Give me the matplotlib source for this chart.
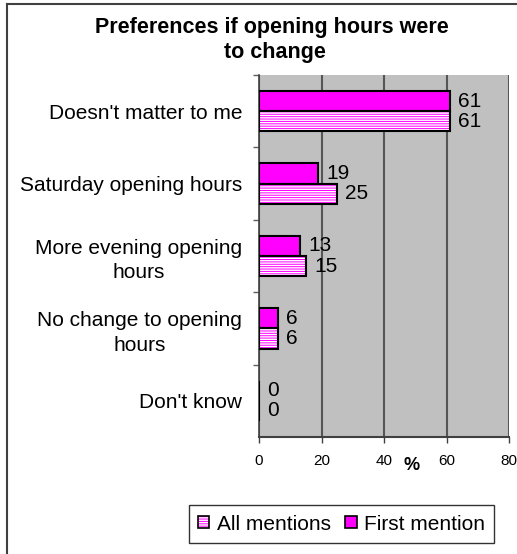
import matplotlib
matplotlib.use("Agg")
import matplotlib.pyplot as plt
from matplotlib.lines import Line2D
from matplotlib.patches import Patch
from matplotlib.legend_handler import HandlerTuple

plt.rcParams['font.family'] = ['Liberation Sans', 'DejaVu Sans']
plt.rcParams['hatch.linewidth'] = 1.0

categories = ["Doesn't matter to me", "Saturday opening hours",
              "More evening opening\nhours", "No change to opening\nhours",
              "Don't know"]
first_mention = [61, 19, 13, 6, 0]
all_mentions = [61, 25, 15, 6, 0]
xticks = [0, 20, 40, 60, 80]

W, H = 517, 554
fig = plt.figure(figsize=(W / 100, H / 100), dpi=100)
ax = fig.add_axes([259 / W, 1 - 437 / H, 250 / W, 362 / H])
ax.set_facecolor('#C0C0C0')

MAG = '#FF00FF'
h = 0.28
ypos = list(range(len(categories)))
y_first = [y - h / 2 for y in ypos]
y_all = [y + h / 2 for y in ypos]

ax.barh(y_first, first_mention, height=h, color=MAG, edgecolor='black',
        linewidth=1.5, zorder=3)
ax.barh(y_all, all_mentions, height=h, color=MAG, edgecolor='white',
        hatch='-------', linewidth=0, zorder=3)
ax.barh(y_all, all_mentions, height=h, fill=False, edgecolor='black',
        linewidth=1.5, zorder=4)

for y, v in zip(y_first, first_mention):
    ax.annotate(str(v), (v, y), xytext=(6, 0), textcoords='offset points',
                va='center', ha='left', fontsize=15)
for y, v in zip(y_all, all_mentions):
    ax.annotate(str(v), (v, y), xytext=(6, 0), textcoords='offset points',
                va='center', ha='left', fontsize=15)

ax.set_xlim(0, 80)
ax.set_ylim(4.5, -0.5)
ax.set_xticks(xticks)
ax.set_xticklabels([str(t) for t in xticks], fontsize=11)
ax.tick_params(axis='x', length=4, width=1, color='#404040', pad=8)
ax.set_yticks(ypos)
ax.set_yticklabels(categories, fontsize=15, multialignment='center',
                   linespacing=1.35)
ax.tick_params(axis='y', length=0, pad=12)
ax.set_yticks([y + 0.5 for y in ypos[:-1]] + [-0.5], minor=True)
ax.tick_params(axis='y', which='minor', length=4, width=1, color='#606060')

ax.xaxis.grid(True, color='#555555', linewidth=1.5, zorder=1)
ax.set_axisbelow(True)
for s in ['top', 'right']:
    ax.spines[s].set_visible(False)
ax.spines['left'].set_color('#404040')
ax.spines['bottom'].set_color('#404040')
ax.spines['left'].set_linewidth(1.2)
ax.spines['bottom'].set_linewidth(1.5)

fig.text(412 / W, 1 - 466 / H, '%', fontsize=13, fontweight='bold',
         ha='center', va='center')

fig.text(272 / W, 1 - 33 / H, 'Preferences if opening hours were',
         fontsize=15.5, fontweight='bold', ha='center', va='baseline')
fig.text(275 / W, 1 - 58 / H, 'to change',
         fontsize=15.5, fontweight='bold', ha='center', va='baseline')

# figure border (left & top)
fig.add_artist(Line2D([7 / W, 7 / W], [0, 1 - 4 / H], color='#404040',
                      linewidth=1.5, transform=fig.transFigure))
fig.add_artist(Line2D([7 / W, 1], [1 - 4 / H, 1 - 4 / H], color='#404040',
                      linewidth=1.5, transform=fig.transFigure))

h_all = (Patch(facecolor=MAG, edgecolor='white', hatch='-------', linewidth=0),
         Patch(fill=False, edgecolor='black', linewidth=1.2))
h_first = Patch(facecolor=MAG, edgecolor='black', linewidth=1.2)
leg = fig.legend([h_all, h_first], ['All mentions', 'First mention'],
                 handler_map={tuple: HandlerTuple(ndivide=1)},
                 loc='center', bbox_to_anchor=(341.5 / W, 1 - 524 / H),
                 ncol=2, fontsize=15, frameon=True, fancybox=False,
                 handlelength=0.55, handleheight=0.55, handletextpad=0.35,
                 columnspacing=0.7, borderpad=0.45, borderaxespad=0)
leg.get_frame().set_edgecolor('black')
leg.get_frame().set_linewidth(1.0)

fig.savefig('out.png', dpi=100)
